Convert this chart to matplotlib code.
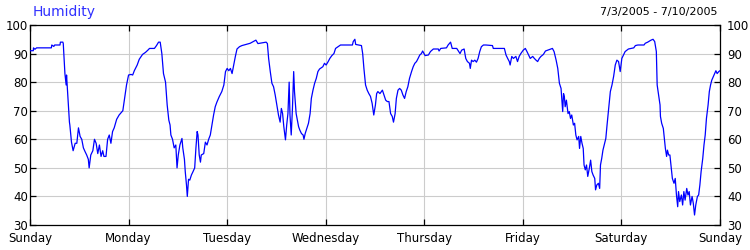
import numpy as np
import matplotlib
matplotlib.use('Agg')
import matplotlib.pyplot as plt

# hours since Sunday 0:00, relative humidity (%)
hours = [0.0, 0.8, 0.85, 1.2, 1.6, 5.2, 5.3, 5.8, 6.0, 7.3, 7.4, 8.0, 8.1, 8.5, 8.8, 8.9, 9.2, 9.6, 9.7, 10.1,
         10.5, 11.0, 11.4, 11.8, 12.2, 12.6, 13.0, 13.4, 13.8, 14.2, 14.4, 14.8, 15.3, 15.7, 16.1, 16.5, 16.9, 17.3, 17.7, 18.0,
         18.5, 18.9, 19.3, 19.7, 20.1, 20.5, 21.1, 21.7, 22.6, 23.0, 23.5, 24.0, 24.6, 25.0, 25.4, 26.1, 26.6, 27.4, 28.1, 28.7,
         29.1, 30.3, 30.8, 31.3, 31.7, 32.1, 32.5, 33.0, 33.4, 33.8, 34.1, 34.3, 34.7, 35.1, 35.5, 35.8, 36.1, 36.5,
         37.0, 37.2, 37.6, 37.8, 38.1, 38.3, 38.6, 38.9, 39.3, 39.7, 40.1, 40.4, 40.7, 40.9, 41.2, 41.5, 41.7, 42.3, 42.7, 43.1,
         43.5, 43.9, 44.3, 44.7, 45.1, 45.5, 46.1, 46.7, 47.2, 47.6, 48.0, 48.4, 48.8, 49.2, 49.6, 50.0, 50.4, 51.0, 51.6, 53.6, 55.0,
         55.5, 57.5, 57.8, 58.1, 58.5, 58.9, 59.3, 59.7, 60.1, 60.5, 60.9, 61.2, 61.5, 61.8, 62.2, 62.5, 62.8, 63.1, 63.3, 63.6,
         63.9, 64.2, 64.4, 64.8, 65.1, 65.4, 65.7, 66.1, 66.5, 66.7, 67.0, 67.4, 67.8, 68.2, 68.5, 68.9, 69.3, 69.7, 70.1, 70.5,
         70.9, 71.3, 71.7, 72.1, 72.6, 73.0, 73.5, 74.0,
         74.4, 75.6, 78.5, 78.7, 79.1, 79.3, 80.7, 81.0, 81.3, 81.7, 82.1, 82.5, 82.9, 83.3, 83.7, 84.1, 84.4, 84.7, 85.2, 85.8,
         86.2, 86.6, 87.0, 87.4, 87.8, 88.2, 88.5, 88.9, 89.2, 89.6, 90.0, 90.4, 90.8, 91.2, 91.6, 92.0, 92.4,
         92.9, 93.3, 93.7, 94.1, 94.5, 94.9, 95.3, 95.6, 96.2, 97.0, 97.5, 98.2, 99.4, 99.6, 100.0, 101.4, 101.8, 102.4, 102.8, 103.9,
         104.3, 104.7, 105.1, 105.7, 106.1, 106.5, 107.0, 107.2, 107.5, 107.9, 108.3, 108.7, 109.1, 109.5, 109.9, 110.4,
         111.0, 112.6, 112.8, 115.5, 115.9, 116.3, 116.7, 116.9, 117.3, 117.7, 118.3, 118.7, 119.1, 119.5, 120.1, 120.6, 121.0, 121.4,
         121.8, 122.4, 122.8, 123.2, 123.6, 124.0, 124.4, 125.0, 125.5, 126.8, 127.2, 127.6, 128.1, 128.5, 128.9, 129.3, 129.7, 129.9,
         130.1, 130.3, 130.6, 131.0, 131.3, 131.6, 131.9, 132.3, 132.6, 132.9, 133.2, 133.6, 133.8, 134.1, 134.4, 134.7, 134.9, 135.2,
         135.5, 135.8, 136.2, 136.5, 136.8, 137.1, 137.5, 137.7, 138.0, 138.4, 138.7, 138.9, 139.2, 139.5, 139.9, 140.2, 140.5, 140.9,
         141.3, 141.7, 142.1, 142.5, 142.9, 143.3, 143.7, 144.1, 144.5, 144.9, 145.7, 147.0, 147.4,
         148.0, 149.5, 149.8, 150.4, 151.2, 151.7, 152.1, 152.5, 152.7, 153.0, 153.4, 153.5, 153.8, 154.2, 154.5, 154.7, 155.0, 155.2,
         155.5, 155.8, 156.1, 156.4, 156.8, 157.1, 157.4, 157.7, 157.9, 158.2, 158.6, 158.9, 159.2, 159.5, 159.9, 160.2, 160.5, 160.8,
         161.2, 161.5, 161.8, 162.1, 162.5, 162.8, 163.1, 163.4, 163.8, 164.1, 164.4, 164.7, 165.1, 165.4, 165.7, 166.0, 166.4, 166.7,
         167.0, 167.3, 167.7, 168.0]
humidity = [91, 91, 92, 91.5, 92, 92, 93, 92.5, 93, 93, 94, 94, 93.5, 83, 79, 82.5, 75.5, 66, 65, 59,
            56, 58.6, 58.6, 64, 61, 60, 57, 55.7, 54.5, 53, 50, 54.5, 56, 60, 58.6, 55, 58, 54, 56, 54,
            54, 60, 61.5, 58.6, 62.7, 64, 67, 68.5, 70, 74, 79, 82.5, 82.7, 82.5, 84, 86, 88, 89.7, 90.4, 91.2,
            91.8, 91.8, 92.8, 94, 94, 90, 83, 80, 72, 66.7, 65, 61.5, 60, 57, 58, 50, 54.5, 58,
            60.3, 57, 53, 48.7, 44, 40, 46, 45.7, 47.5, 48.7, 50, 57, 62.7, 61.5, 54.5, 52, 54.5, 55, 59, 58,
            60, 61.5, 65, 68.5, 71.4, 73, 75, 76.7, 79, 83.7, 84.8, 84, 84.8, 83, 86, 89, 91.6, 92.4, 92.8, 93.6, 94.7,
            93.5, 94, 93.5, 88.3, 83.7, 79.6, 78.4, 75.5, 72, 68.5, 66, 70.8, 69, 64.4, 59.8, 65, 69, 80, 68.5, 61.5,
            70.8, 83.7, 76.7, 69, 66.7, 64.4, 63.2, 62, 61.5, 60, 62, 63.8, 65.6, 69, 74.3, 77.2, 79.6, 81.3, 83.7, 84.6,
            85, 85.4, 86.6, 86, 87.2, 88.3, 89.3, 90,
            91.8, 93, 93, 94.2, 95, 93.2, 92.8, 90, 84.8, 79, 77.2, 76, 75, 72.6, 68.5, 72, 76, 76.7, 76, 77.2,
            75.5, 73.7, 73.2, 73.2, 69, 68, 66, 69, 74.3, 77.2, 77.8, 77.2, 75.5, 74.3, 76.7, 78.4, 81.3,
            83.7, 85.4, 86.6, 87.2, 88.3, 89.5, 90, 90.9, 89.3, 89.5, 90.7, 91.6, 91.6, 90.9, 91.8, 92, 93, 94, 91.8, 91.8,
            90.9, 90, 91.2, 91.6, 88.3, 87.2, 86.6, 84.8, 87.7, 87.2, 87.7, 87, 88.3, 90.7, 92.4, 93,
            93, 92.8, 91.8, 91.8, 89.5, 88.3, 87.2, 86, 89, 88.3, 89, 87.2, 89, 90, 91.2, 91.8, 90.7, 89.5,
            88.3, 89, 88.3, 87.7, 87.2, 88.3, 89, 89.7, 90.9, 91.6, 91.8, 90.7, 87.7, 84.8, 79.6, 77.8, 69.7, 76,
            75, 71.4, 73.7, 69, 69.7, 67.3, 68.5, 65, 65.6, 61.5, 59.8, 61, 56.8, 61, 58.6, 56.8, 51, 49.3,
            51, 47, 50, 52.7, 48.7, 47.5, 46.3, 42.3, 44, 44.6, 42.8, 51, 53.3, 56.2, 58.6, 60.3, 65, 70.8,
            76.7, 79, 82, 86, 87.7, 87.2, 83.7, 88.3, 89.5, 90.7, 91.6, 92, 92.8,
            93, 93, 93.6, 94, 94.7, 95, 94.2, 90.7, 79, 76, 72, 68, 65.6, 63.8, 59.8, 56.8, 54, 56.2,
            54.5, 54.5, 50.4, 46.3, 44.6, 46.3, 40.5, 36.4, 41.7, 38.2, 40.5, 37, 41.7, 38.7, 42.8, 40.5, 41.7, 37,
            40, 37.6, 33.5, 37, 40, 40.5, 44, 48.7, 53.3, 58, 61.5, 67.3, 72, 76.7, 79, 80.7, 82, 83,
            84, 83, 83.7, 84]

day_labels = ['Sunday', 'Monday', 'Tuesday', 'Wednesday', 'Thursday', 'Friday', 'Saturday', 'Sunday']
y_ticks = [30, 40, 50, 60, 70, 80, 90, 100]
title = 'Humidity'
date_range = '7/3/2005 - 7/10/2005'

plt.rcParams['font.family'] = ['DejaVu Sans']

fig = plt.figure(figsize=(7.5, 2.5), dpi=100)
ax = fig.add_axes([0.04, 0.1, 0.92, 0.8])

ax.plot(hours, humidity, color='#0000ff', lw=0.9, zorder=3)

ax.set_xlim(0, 168)
ax.set_ylim(30, 100)
ax.set_xticks(np.arange(0, 169, 24))
ax.set_xticklabels(day_labels)
ax.set_yticks(y_ticks)
ax.grid(True, color='#cccccc', lw=0.8)
ax.set_axisbelow(True)
for s in ax.spines.values():
    s.set_color('black')
    s.set_linewidth(0.9)

ax.tick_params(axis='x', direction='in', length=4, width=0.9, top=True, pad=5, labelsize=8.5)
ax.tick_params(axis='y', direction='in', length=4, width=0.9, pad=1.5, labelsize=8.5)

ax2 = ax.twinx()
ax2.set_ylim(30, 100)
ax2.set_yticks(y_ticks)
ax2.tick_params(axis='y', direction='in', length=4, width=0.9, pad=5, labelsize=8.5)
for s in ax2.spines.values():
    s.set_visible(False)

fig.text(0.044, 0.953, title, color='#3030ff', fontsize=10, va='center', ha='left')
fig.text(0.957, 0.952, date_range, color='black', fontsize=8, va='center', ha='right')

plt.savefig('out.png', dpi=100)
